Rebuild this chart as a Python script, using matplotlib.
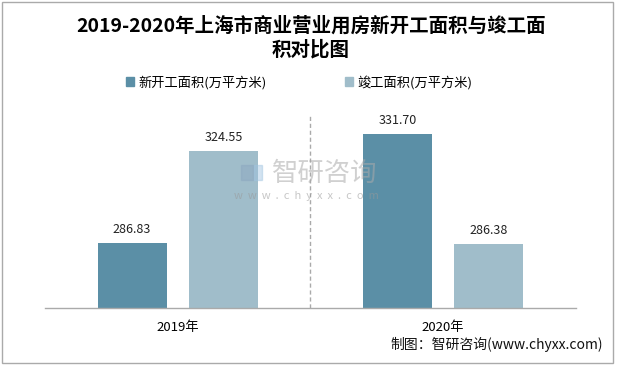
import matplotlib
matplotlib.use('Agg')
import matplotlib.pyplot as plt
from matplotlib.patches import Rectangle
import numpy as np

plt.rcParams['font.family'] = ['Noto Sans CJK SC', 'DejaVu Sans']

# data
years = ['2019年', '2020年']
new_start = [286.83, 331.70]
completed = [324.55, 286.38]
series_names = ['新开工面积(万平方米)', '竣工面积(万平方米)']
title = '2019-2020年上海市商业营业用房新开工面积与竣工面\n积对比图'

dark = '#5B8FA6'
light = '#A0BDCA'

fig = plt.figure(figsize=(6.17, 3.65), dpi=100)
ax = fig.add_axes([0.0729, 0.156, 0.8606, 0.532])

x = np.arange(len(years))
off = 0.172
w = 0.26
b1 = ax.bar(x - off, new_start, width=w, color=dark, zorder=2)
b2 = ax.bar(x + off, completed, width=w, color=light, zorder=2)

for bars, vals in ((b1, new_start), (b2, completed)):
    for rect, v in zip(bars, vals):
        ax.text(rect.get_x() + rect.get_width() / 2, v + 3, f'{v:.2f}',
                ha='center', va='bottom', fontsize=9, color='#222222')

ax.set_xlim(-0.5, 1.5)
ax.set_ylim(260, 340)
ax.axvline(0.5, color='#AAAAAA', linestyle=(0, (3, 2)), linewidth=1, zorder=1)

for s in ('top', 'right', 'left'):
    ax.spines[s].set_visible(False)
ax.spines['bottom'].set_color('#AAAAAA')
ax.spines['bottom'].set_linewidth(1)
ax.set_yticks([])
ax.set_xticks(x)
ax.set_xticklabels(years, fontsize=9.5)
ax.tick_params(axis='x', length=0, pad=9)

# title and legend
fig.text(0.504, 0.955, title, ha='center', va='top', fontsize=14,
         fontweight='bold', linespacing=1.25)
handles = [Rectangle((0, 0), 1, 1, color=dark), Rectangle((0, 0), 1, 1, color=light)]
fig.legend(handles, series_names, loc='center', bbox_to_anchor=(0.485, 0.775),
           ncol=2, frameon=False, fontsize=9.5, handlelength=0.6, handleheight=0.6,
           handletextpad=0.3, columnspacing=6)

# watermark
fig.text(0.527, 0.525, '智研咨询', ha='center', va='center', fontsize=19,
         color='#AAAAAA', alpha=0.55, zorder=5)
fig.text(0.496, 0.463, 'w  w  w  .  c  h  y  x  x  .  c  o  m', ha='center', va='center',
         fontsize=8, color='#999999', alpha=0.55, zorder=5)
fig.patches.append(Rectangle((0.390, 0.508), 0.020, 0.040, transform=fig.transFigure,
                             color='#8AA6BF', alpha=0.45, zorder=5))
fig.patches.append(Rectangle((0.412, 0.508), 0.012, 0.040, transform=fig.transFigure,
                             color='#9FC3E0', alpha=0.45, zorder=5))

# source
fig.text(0.977, 0.035, '制图：智研咨询(www.chyxx.com)', ha='right', va='bottom',
         fontsize=10, color='#111111')

# border
fig.patches.append(Rectangle((0.003, 0.005), 0.99, 0.99, transform=fig.transFigure,
                             fill=False, edgecolor='#AAAAAA', linewidth=1))

fig.savefig('out.png', dpi=100)
